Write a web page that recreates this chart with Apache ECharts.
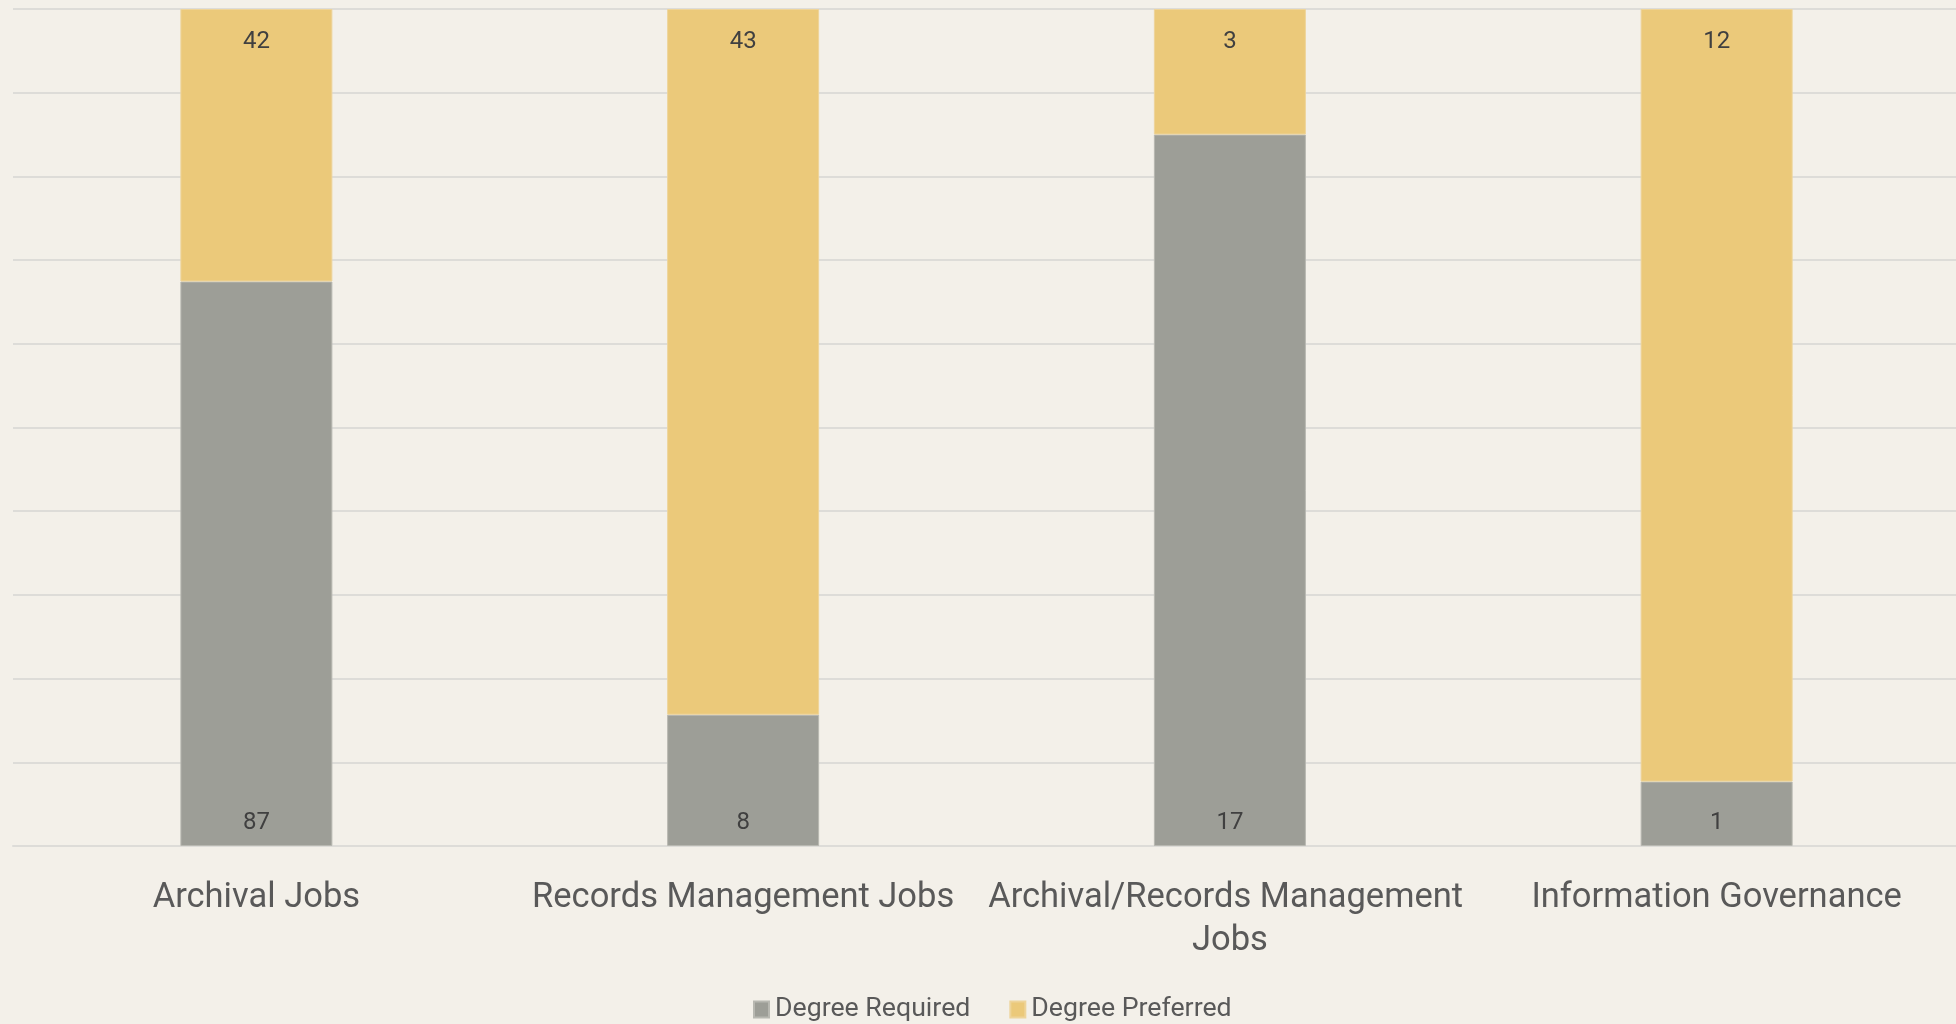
<!DOCTYPE html>
<html>
<head>
<meta charset="utf-8">
<style>
html,body{margin:0;padding:0;background:#F3F0E9;}
#chart{width:1956px;height:1024px;}
</style>
<script src="https://cdn.jsdelivr.net/npm/echarts@6/dist/echarts.min.js"></script>
</head>
<body>
<div id="chart"></div>
<script>
const categories = ["Archival Jobs", "Records Management Jobs", "Archival/Records Management Jobs", "Information Governance"];
const degreeRequired = [87, 8, 17, 1];
const degreePreferred = [42, 43, 3, 12];

const totals = categories.map((c, i) => degreeRequired[i] + degreePreferred[i]);
const pct = (arr) => arr.map((v, i) => v / totals[i] * 100);

const FONT = 'Roboto';
const chart = echarts.init(document.getElementById('chart'));
chart.setOption({
  backgroundColor: '#F3F0E9',
  animation: false,
  textStyle: { fontFamily: FONT },
  grid: { left: 13, top: 9, right: -4, height: 837, containLabel: false, outerBoundsMode: 'none' },
  legend: {
    left: 753, top: 996, padding: 0,
    itemWidth: 15, itemHeight: 16, itemGap: 39,
    icon: 'rect',
    textStyle: { fontFamily: FONT, fontSize: 26.7, color: '#595959', padding: [0, 0, 0, 1] },
    data: ['Degree Required', 'Degree Preferred']
  },
  xAxis: {
    type: 'category',
    data: categories,
    axisLine: { lineStyle: { color: '#DDDCD8', width: 2 } },
    axisTick: { show: false },
    axisLabel: {
      fontFamily: FONT, fontSize: 34.5, color: '#595959',
      margin: 31, lineHeight: 43, width: 520, overflow: 'break', interval: 0
    }
  },
  yAxis: {
    type: 'value', min: 0, max: 100, interval: 10,
    axisLabel: { show: false },
    axisLine: { show: false }, axisTick: { show: false },
    splitLine: { lineStyle: { color: '#DDDCD8', width: 2 } }
  },
  series: [
    {
      name: 'Degree Required', type: 'bar', stack: 'total', barWidth: 152,
      data: pct(degreeRequired),
      itemStyle: { color: '#9D9E97', borderColor: '#B8B8B1', borderWidth: 1 },
      label: {
        show: true, position: 'insideBottom', distance: 11,
        fontFamily: FONT, fontSize: 24, color: '#404040',
        formatter: p => degreeRequired[p.dataIndex]
      }
    },
    {
      name: 'Degree Preferred', type: 'bar', stack: 'total', barWidth: 152,
      data: pct(degreePreferred),
      itemStyle: { color: '#EBC97A', borderColor: '#EED49A', borderWidth: 1 },
      label: {
        show: true, position: 'insideTop', distance: 21,
        fontFamily: FONT, fontSize: 24, color: '#404040',
        formatter: p => degreePreferred[p.dataIndex]
      }
    }
  ]
});
</script>
</body>
</html>
